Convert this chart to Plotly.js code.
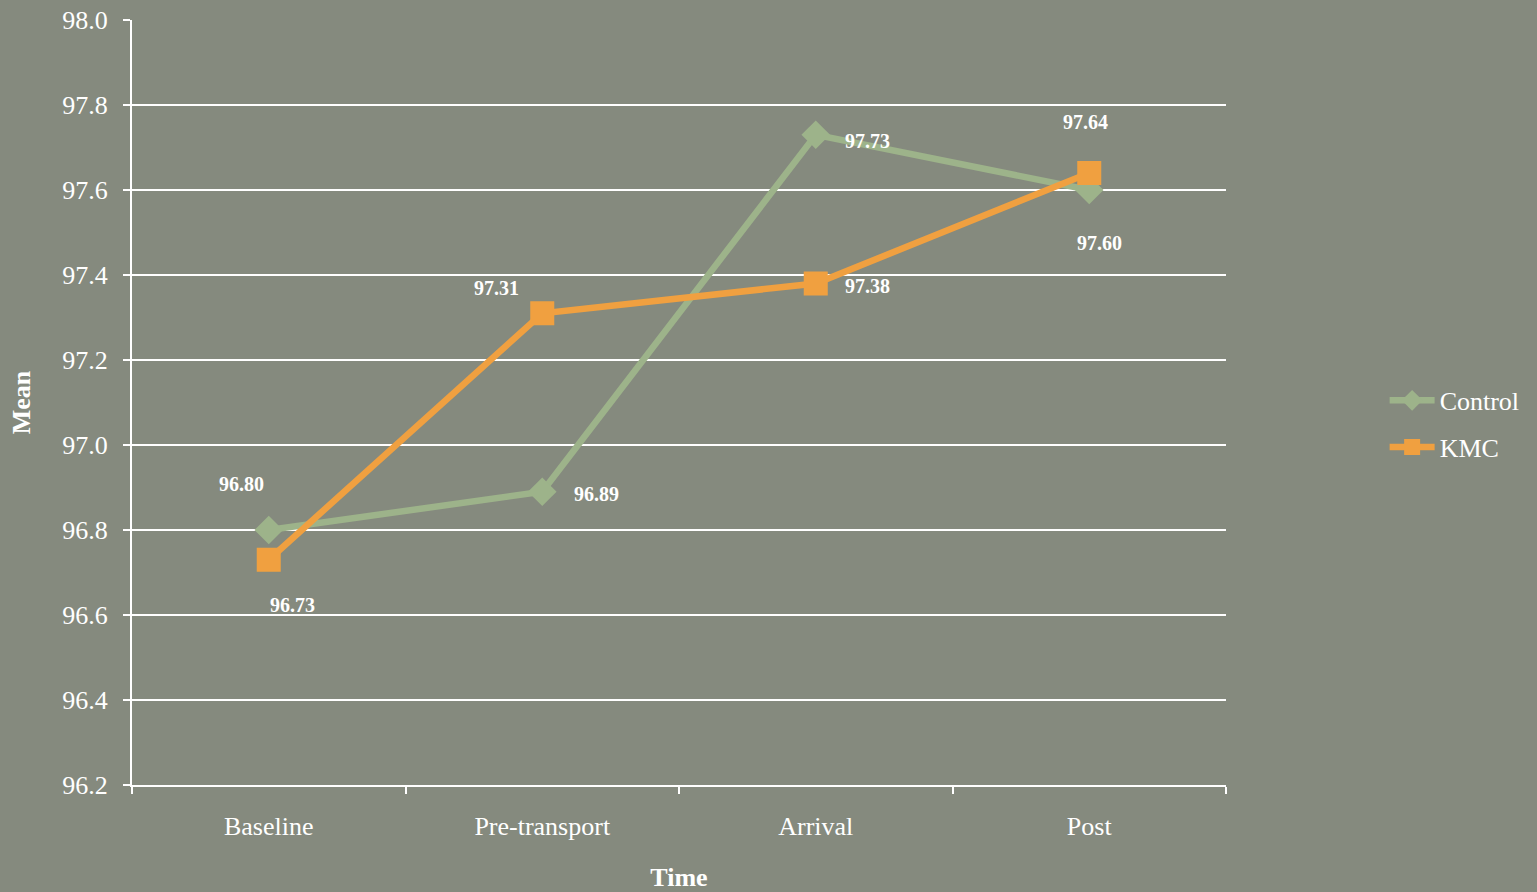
<!DOCTYPE html>
<html>
<head>
<meta charset="utf-8">
<script src="https://cdn.plot.ly/plotly-3.0.1.min.js"></script>
<style>html,body{margin:0;padding:0;background:#858a7e;}#chart{width:1537px;height:892px;}</style>
</head>
<body>
<div id="chart"></div>
<script>
const categories = ["Baseline", "Pre-transport", "Arrival", "Post"];
const controlValues = [96.80, 96.89, 97.73, 97.60];
const kmcValues = [96.73, 97.31, 97.38, 97.64];
const controlLabels = ["96.80", "96.89", "97.73", "97.60"];
const kmcLabels = ["96.73", "97.31", "97.38", "97.64"];
const yTickValues = [96.2, 96.4, 96.6, 96.8, 97.0, 97.2, 97.4, 97.6, 97.8, 98.0];

const FONT = "'Liberation Serif', 'DejaVu Serif', serif";
const controlColor = "#9db38a";
const kmcColor = "#f0a040";

// label offsets (style only)
const controlShift = [[-27, 46], [54, -2], [52, -6], [10, -53]];
const kmcShift = [[24, -45], [-46, 25], [52, -2], [-4, 51]];

const annotations = [];
categories.forEach((c, i) => {
  annotations.push({x: c, y: controlValues[i], text: controlLabels[i], showarrow: false,
    xshift: controlShift[i][0], yshift: controlShift[i][1],
    font: {family: FONT, size: 20, color: "#ffffff", weight: "bold"}});
  annotations.push({x: c, y: kmcValues[i], text: kmcLabels[i], showarrow: false,
    xshift: kmcShift[i][0], yshift: kmcShift[i][1],
    font: {family: FONT, size: 20, color: "#ffffff", weight: "bold"}});
});

const traces = [
  {x: categories, y: controlValues, name: "Control", type: "scatter", mode: "lines+markers",
   legendgroup: "a",
   line: {color: controlColor, width: 6.5}, marker: {symbol: "diamond", size: 22, color: controlColor}},
  {x: categories, y: kmcValues, name: "KMC", type: "scatter", mode: "lines+markers",
   legendgroup: "b",
   line: {color: kmcColor, width: 6.5}, marker: {symbol: "square", size: 24, color: kmcColor}}
];

const layout = {
  width: 1537, height: 892,
  paper_bgcolor: "#858a7e", plot_bgcolor: "#858a7e",
  margin: {l: 132, r: 307, t: 20, b: 107},
  font: {family: FONT, color: "#ffffff", size: 26},
  showlegend: true,
  legend: {x: 1.145, xanchor: "left", y: 0.472, yanchor: "middle",
    font: {family: FONT, size: 26, color: "#ffffff"}, itemwidth: 45,
    traceorder: "grouped", tracegroupgap: 10, bgcolor: "rgba(0,0,0,0)"},
  xaxis: {type: "category", range: [-0.5, 3.5], tickson: "boundaries", ticks: "outside", ticklen: 7, tickwidth: 2,
    tickcolor: "#ffffff", showline: true, linecolor: "#ffffff", linewidth: 2,
    showgrid: false, tickfont: {family: FONT, size: 26, color: "#ffffff"},
    ticklabelstandoff: 17,
    title: {text: "Time", font: {family: FONT, size: 26, color: "#ffffff", weight: "bold"}, standoff: 30}},
  yaxis: {range: [96.2, 98.0], tickvals: yTickValues, tickformat: ".1f", ticks: "outside", ticklen: 7, tickwidth: 2,
    tickcolor: "#ffffff", showline: true, linecolor: "#ffffff", linewidth: 2,
    showgrid: true, gridcolor: "#ffffff", gridwidth: 2, zeroline: false,
    tickfont: {family: FONT, size: 26, color: "#ffffff"}, ticklabelstandoff: 10,
    title: {text: "Mean", font: {family: FONT, size: 26, color: "#ffffff", weight: "bold"}, standoff: 24}},
  annotations: annotations
};

Plotly.newPlot("chart", traces, layout, {displayModeBar: false});
</script>
</body>
</html>
